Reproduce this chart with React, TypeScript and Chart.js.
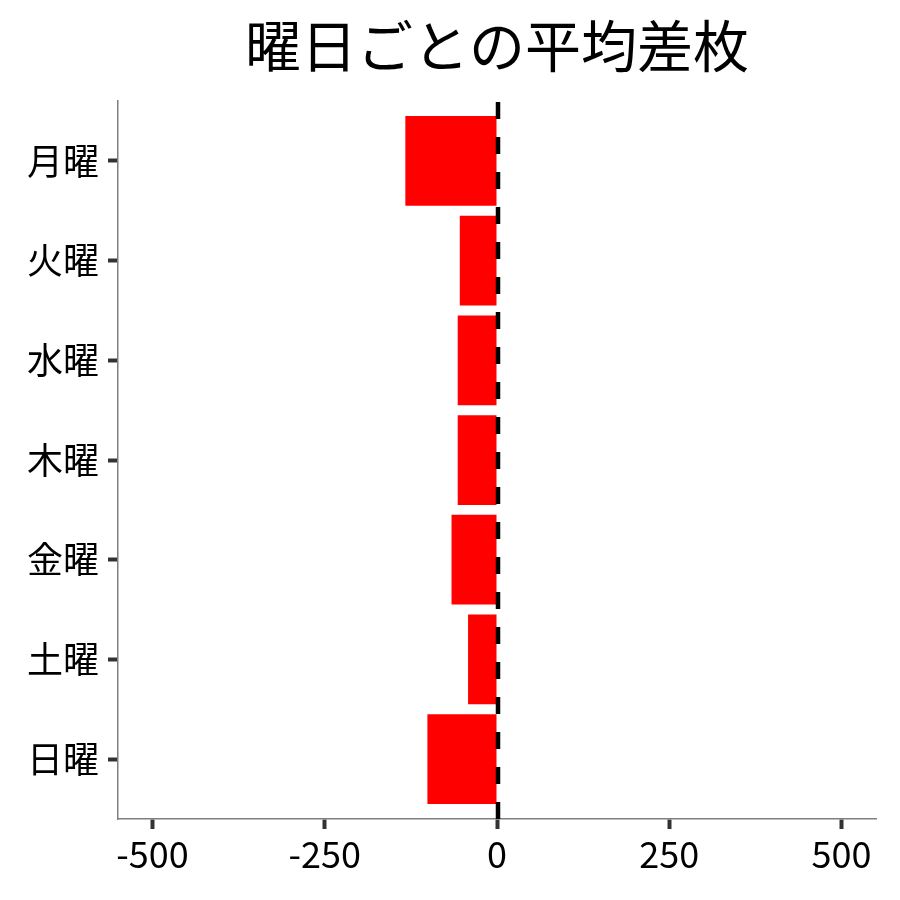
import React, { useEffect, useRef } from "react";
import { Chart, registerables } from "chart.js";
Chart.register(...registerables);

const days = ["月曜", "火曜", "水曜", "木曜", "金曜", "土曜", "日曜"];
const avgDiff = [-133, -54, -57, -57, -66, -42, -101];
const xTickValues = [-500, -250, 0, 250, 500];
const titleText = "曜日ごとの平均差枚";
const FONT = "'Noto Sans CJK JP', 'Noto Sans', sans-serif";

const zeroLine = {
  id: "zeroLine",
  afterDatasetsDraw(chart: any) {
    const { ctx, chartArea, scales } = chart;
    const x = scales.x.getPixelForValue(0) + 1;
    ctx.save();
    ctx.strokeStyle = "#000";
    ctx.lineWidth = 4.5;
    ctx.setLineDash([17, 18]);
    ctx.beginPath();
    ctx.moveTo(x, chartArea.bottom);
    ctx.lineTo(x, chartArea.top);
    ctx.stroke();
    ctx.restore();
  },
};

export default function App() {
  const ref = useRef<HTMLCanvasElement | null>(null);
  useEffect(() => {
    if (!ref.current) return;
    const chart = new Chart(ref.current, {
      type: "bar",
      data: {
        datasets: [
          {
            data: days.map((_, i) => ({ x: avgDiff[i], y: i })),
            backgroundColor: "#FF0000",
            borderWidth: 0,
            barPercentage: 0.9,
            categoryPercentage: 1,
          },
        ],
      },
      options: {
        indexAxis: "y",
        animation: false,
        responsive: false,
        devicePixelRatio: 1,
        layout: { padding: { left: 0, right: 24, top: 0, bottom: 0 } },
        plugins: {
          legend: { display: false },
          tooltip: { enabled: false },
          title: {
            display: true,
            text: titleText,
            fullSize: false,
            color: "#000",
            font: { family: FONT, size: 56, weight: "normal", lineHeight: 1.2 },
            padding: { top: 12, bottom: 21.8 },
          },
        },
        scales: {
          x: {
            type: "linear",
            min: -550,
            max: 550,
            offset: false,
            afterBuildTicks: (s: any) => {
              s.ticks = xTickValues.map((v) => ({ value: v }));
            },
            afterFit: (s: any) => {
              s.height = 81;
            },
            ticks: {
              color: "#000",
              font: { family: FONT, size: 36 },
              padding: 4,
              maxRotation: 0,
              callback: (v: any) => String(v),
            },
            grid: {
              offset: false,
              drawOnChartArea: false,
              drawTicks: true,
              tickLength: 10,
              tickWidth: 4,
              tickColor: "#333",
            },
            border: { display: true, color: "#7f7f7f", width: 1.5 },
          },
          y: {
            type: "linear",
            reverse: true,
            min: -0.6,
            max: 6.6,
            offset: false,
            afterBuildTicks: (s: any) => {
              s.ticks = days.map((_, i) => ({ value: i }));
            },
            afterFit: (s: any) => {
              s.width = 118;
            },
            ticks: {
              color: "#000",
              font: { family: FONT, size: 36 },
              padding: 9,
              callback: (v: any) => days[v] ?? "",
            },
            grid: {
              offset: false,
              drawOnChartArea: false,
              drawTicks: true,
              tickLength: 10,
              tickWidth: 4,
              tickColor: "#333",
            },
            border: { display: true, color: "#7f7f7f", width: 1.5 },
          },
        },
      },
      plugins: [zeroLine],
    } as any);
    return () => chart.destroy();
  }, []);
  return (
    <div style={{ position: "absolute", left: 0, top: 0, width: 900, height: 900, background: "#fff" }}>
      <canvas ref={ref} width={900} height={900} />
    </div>
  );
}
